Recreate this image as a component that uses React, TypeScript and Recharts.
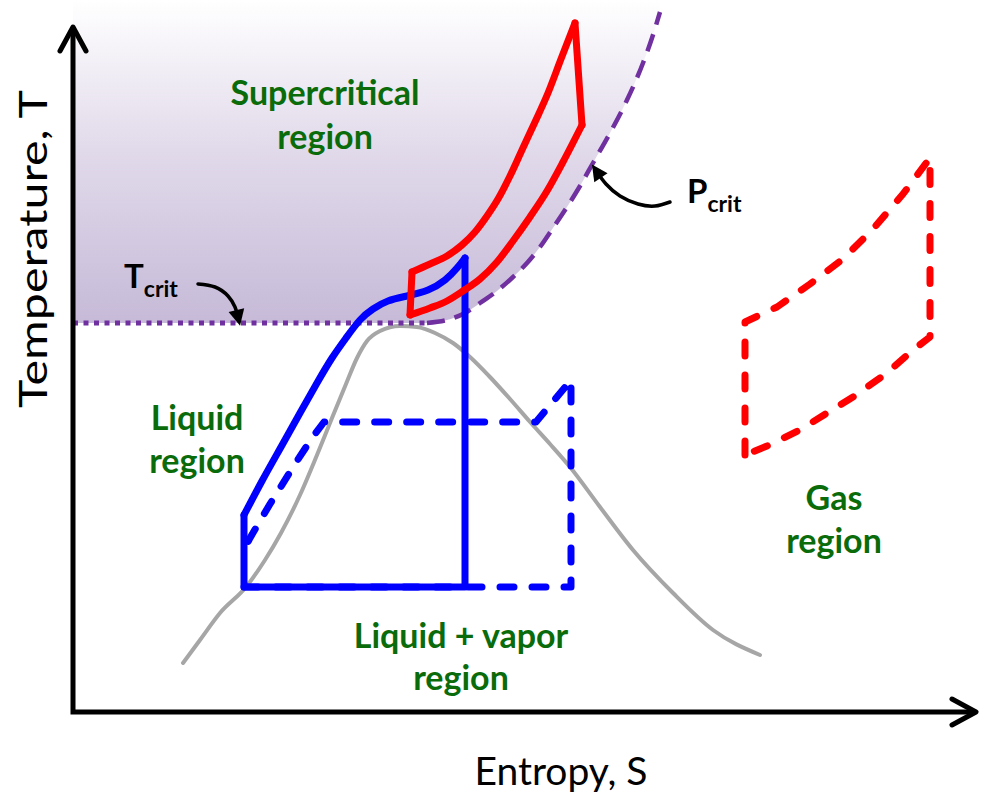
import React from 'react';
import { ComposedChart, Line, Area, Scatter, XAxis, YAxis } from 'recharts';

// Schematic T–S diagram. S = entropy (left→right), T = temperature drawn with a reversed axis
// (small T value = top of the drawing).
const W = 986;
const H = 793;

type P = { s: number; t: number };
const toPts = (arr: number[][]): P[] => arr.map(([s, t]) => ({ s, t }));

// Axes (one polyline: top of T axis → origin → end of S axis)
const axesLine = [[73, 27], [73, 712], [976, 712]];

// Critical temperature (dotted) and critical pressure (dashed) curves
const tcritLine = [[73, 323], [427, 323]];
const pcritCurve = [
  [427, 323], [447, 320], [465, 313], [480, 303], [497, 291], [513, 277], [527, 263],
  [540, 247], [553, 228], [567, 207], [580, 186], [593, 163], [610, 133], [627, 100],
  [643, 63], [652, 38], [660, 12],
];
// Supercritical region fill: left part bounded by T_crit, right part by P_crit
const superFillLower = [[73, 323], [415, 323], ...pcritCurve];
const superFillTop = 0;

// Saturation dome
const dome = [
  [183, 663], [200, 640], [220, 613], [246, 587], [265, 560], [281, 533], [300, 495],
  [317, 455], [332, 418], [346, 384], [357, 358], [367, 341], [380, 331], [400, 326],
  [417, 327], [435, 333], [453, 343], [470, 357], [489, 376], [510, 399], [531, 423],
  [550, 444], [570, 467], [600, 507], [633, 550], [673, 593], [713, 630], [760, 655],
];

// Blue cycles
const blueSolidCurve = [
  [244, 515], [262, 481], [281, 447], [300, 413], [317, 383], [332, 358], [346, 338],
  [360, 320], [373, 309], [388, 301], [407, 296], [428, 290], [445, 280], [457, 268], [465, 258],
];
const blueSolidBox = [[465, 258], [465, 587], [244, 587], [244, 515]];
const blueDashed = [
  [244, 587], [571, 587], [571, 380], [536, 422], [324, 422], [312, 438], [295, 464],
  [270, 504], [250, 538], [245, 548],
];

// Red cycles
const redLeft = [[410, 315], [412, 272]];
const redUpper = [
  [412, 272], [430, 264], [447, 256], [462, 245], [475, 232], [487, 216], [498, 199],
  [510, 176], [522, 150], [535, 122], [548, 93], [561, 59], [575, 23],
];
const redRight = [[575, 23], [582, 125]];
const redLower = [
  [410, 315], [430, 308], [447, 301], [463, 291], [480, 279], [497, 262], [513, 241],
  [530, 217], [547, 191], [563, 162], [582, 125],
];
const redDashed = [
  [745, 455], [745, 322], [777, 307], [810, 284], [843, 259], [873, 229], [903, 194],
  [930, 158], [930, 337], [913, 350], [887, 373], [853, 397], [827, 413], [800, 430],
  [767, 446], [745, 455],
];

// Annotation arrows
const tcritArrow = [[198, 284], [215, 287], [228, 296], [235, 307], [238, 317]];
const pcritArrow = [[670, 202], [655, 206], [638, 204], [620, 196], [606, 184], [597, 172]];

// Labels
const regionLabels = [
  { s: 325, t: 105, text: 'Supercritical' },
  { s: 325, t: 149, text: 'region' },
  { s: 197, t: 430, text: 'Liquid' },
  { s: 197, t: 473, text: 'region' },
  { s: 461, t: 648, text: 'Liquid + vapor' },
  { s: 461, t: 690, text: 'region' },
  { s: 834, t: 510, text: 'Gas' },
  { s: 834, t: 553, text: 'region' },
];
const critLabels = [
  { s: 124, t: 288, main: 'T', sub: 'crit' },
  { s: 687, t: 203, main: 'P', sub: 'crit' },
];
const xTitle = [{ s: 561, t: 785, text: 'Entropy, S' }];
const yTitle = [{ s: 47, t: 249, text: 'Temperature, T' }];

const GREEN = '#0a6b0a';
const BLUE = '#0000ff';
const RED = '#ff0000';
const PURPLE = '#7030a0';
const FONT = 'Lato, "Open Sans", sans-serif';

const RegionText = (props: any) => (
  <text x={props.cx} y={props.cy} textAnchor="middle" fill={GREEN}
    style={{ fontFamily: FONT, fontWeight: 700, fontSize: 34 }}>
    {props.payload.text}
  </text>
);
const CritText = (props: any) => (
  <text x={props.cx} y={props.cy} fill="#000" style={{ fontFamily: FONT, fontWeight: 700 }}>
    <tspan fontSize={33}>{props.payload.main}</tspan>
    <tspan fontSize={23} dy={9}>{props.payload.sub}</tspan>
  </text>
);
const XTitleText = (props: any) => (
  <text x={props.cx} y={props.cy} textAnchor="middle" fill="#000"
    style={{ fontFamily: FONT, fontSize: 39 }}>
    {props.payload.text}
  </text>
);
const YTitleText = (props: any) => (
  <text x={props.cx} y={props.cy} textAnchor="middle" fill="#000"
    transform={`rotate(-90 ${props.cx} ${props.cy})`}
    textLength={318} lengthAdjust="spacingAndGlyphs"
    style={{ fontFamily: FONT, fontSize: 39 }}>
    {props.payload.text}
  </text>
);

const lineCommon = {
  dataKey: 't',
  dot: false,
  activeDot: false,
  isAnimationActive: false,
  strokeLinecap: 'round' as const,
  strokeLinejoin: 'round' as const,
  legendType: 'none' as const,
};

export default function App() {
  const fillData = superFillLower.map(([s, t]) => ({ s, range: [t, superFillTop] }));
  return (
    <div style={{ position: 'absolute', left: 0, top: 0, width: W, height: H, background: '#fff' }}>
      <ComposedChart width={W} height={H} margin={{ top: 0, right: 0, bottom: 0, left: 0 }}>
        <defs>
          <linearGradient id="superGrad" x1="0" y1="0" x2="0" y2="1">
            <stop offset="0%" stopColor="#ffffff" />
            <stop offset="45%" stopColor="#e2dbeb" />
            <stop offset="100%" stopColor="#c6bad8" />
          </linearGradient>
          <marker id="axisHead" markerUnits="userSpaceOnUse" markerWidth={36} markerHeight={36}
            viewBox="0 0 36 36" refX={30} refY={18} orient="auto-start-reverse">
            <path d="M6,5 L30,18 L6,31" fill="none" stroke="#000" strokeWidth={5}
              strokeLinecap="round" strokeLinejoin="round" />
          </marker>
          <marker id="arrowFill" markerUnits="userSpaceOnUse" markerWidth={20} markerHeight={20}
            viewBox="0 0 20 20" refX={8} refY={10} orient="auto">
            <path d="M1,2 L17,10 L1,18 Z" fill="#000" />
          </marker>
        </defs>
        <XAxis type="number" dataKey="s" domain={[0, W]} hide allowDataOverflow />
        <YAxis type="number" dataKey="t" domain={[0, H]} reversed hide allowDataOverflow />

        <Area data={fillData} dataKey="range" type="monotone" stroke="none"
          fill="url(#superGrad)" fillOpacity={1} isAnimationActive={false} dot={false}
          activeDot={false} legendType="none" />

        <Line {...lineCommon} data={toPts(dome)} type="monotone" stroke="#a6a6a6" strokeWidth={4} />
        <Line {...lineCommon} data={toPts(tcritLine)} type="linear" stroke={PURPLE} strokeWidth={5}
          strokeLinecap="butt" strokeDasharray="5 5.5" />
        <Line {...lineCommon} data={toPts(pcritCurve)} type="monotone" stroke={PURPLE} strokeWidth={4.5}
          strokeLinecap="butt" strokeDasharray="18 10" />

        <Line {...lineCommon} data={toPts(blueDashed)} type="linear" stroke={BLUE} strokeWidth={7}
          strokeDasharray="14 18" />
        <Line {...lineCommon} data={toPts(blueSolidBox)} type="linear" stroke={BLUE} strokeWidth={7} />
        <Line {...lineCommon} data={toPts(blueSolidCurve)} type="natural" stroke={BLUE} strokeWidth={7} />

        <Line {...lineCommon} data={toPts(redDashed)} type="linear" stroke={RED} strokeWidth={7}
          strokeDasharray="14 19" />
        <Line {...lineCommon} data={toPts(redLeft)} type="linear" stroke={RED} strokeWidth={7} />
        <Line {...lineCommon} data={toPts(redUpper)} type="monotone" stroke={RED} strokeWidth={7} />
        <Line {...lineCommon} data={toPts(redRight)} type="linear" stroke={RED} strokeWidth={7} />
        <Line {...lineCommon} data={toPts(redLower)} type="monotone" stroke={RED} strokeWidth={7} />

        <Line {...lineCommon} data={toPts(tcritArrow)} type="natural" stroke="#000" strokeWidth={3.5}
          markerEnd="url(#arrowFill)" />
        <Line {...lineCommon} data={toPts(pcritArrow)} type="natural" stroke="#000" strokeWidth={3.5}
          markerEnd="url(#arrowFill)" />

        <Line {...lineCommon} data={toPts(axesLine)} type="linear" stroke="#000" strokeWidth={5}
          strokeLinecap="butt" strokeLinejoin="miter" markerStart="url(#axisHead)" markerEnd="url(#axisHead)" />

        <Scatter data={regionLabels} dataKey="t" shape={RegionText} isAnimationActive={false} legendType="none" />
        <Scatter data={critLabels} dataKey="t" shape={CritText} isAnimationActive={false} legendType="none" />
        <Scatter data={xTitle} dataKey="t" shape={XTitleText} isAnimationActive={false} legendType="none" />
        <Scatter data={yTitle} dataKey="t" shape={YTitleText} isAnimationActive={false} legendType="none" />
      </ComposedChart>
    </div>
  );
}
